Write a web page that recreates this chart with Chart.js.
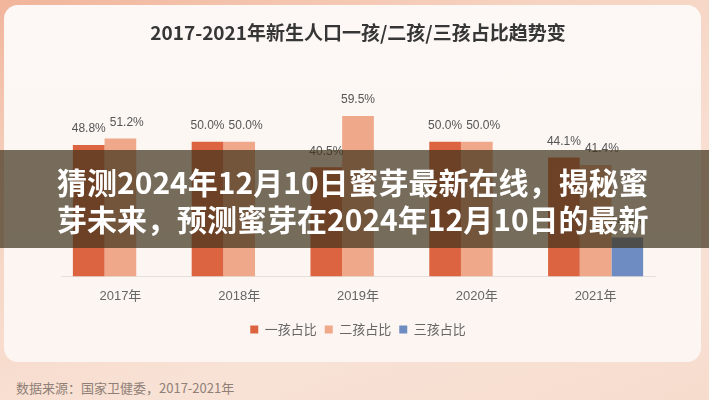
<!DOCTYPE html>
<html>
<head>
<meta charset="utf-8">
<script src="https://cdn.jsdelivr.net/npm/chart.js@4.4.0/dist/chart.umd.min.js"></script>
<style>
    html, body { margin: 0; padding: 0; }
    body {
        width: 709px; height: 400px; overflow: hidden; position: relative;
        background: linear-gradient(160deg, #f1b59b 0%, #f6d3c1 30%, #f8e2d6 70%, #f6dccd 100%);
        font-family: "Noto Sans CJK SC", sans-serif;
    }
    #card {
        position: absolute; left: 4px; top: 5px; width: 697px; height: 357px;
        border-radius: 14px;
        background: linear-gradient(180deg, #fdf8f5 0%, #fcf5f1 100%);
    }
    #wrap { position: absolute; left: 0; top: 0; width: 709px; height: 346px; }
    #banner {
        position: absolute; left: 0; top: 150px; width: 709px; height: 98px;
        background: rgba(63, 51, 28, 0.71);
        color: #fff; font-weight: bold; font-size: 30px; line-height: 37px;
        box-sizing: border-box; padding: 13px 0 0 57px; white-space: nowrap;
    }
    #source {
        position: absolute; left: 16px; top: 379px;
        font-size: 13px; line-height: 18px; color: #8f7f76;
    }
</style>
</head>
<body>
<div id="card"></div>
<div id="wrap"><canvas id="birthChart"></canvas></div>
<div id="banner">猜测2024年12月10日蜜芽最新在线，揭秘蜜<br>芽未来，预测蜜芽在2024年12月10日的最新</div>
<div id="source">数据来源：国家卫健委，2017-2021年</div>

<script>
const years       = ['2017年', '2018年', '2019年', '2020年', '2021年'];
const firstChild  = [48.8, 50.0, 40.5, 50.0, 44.1];
const secondChild = [51.2, 50.0, 59.5, 50.0, 41.4];
const thirdChild  = [null, null, null, null, 14.5];
const seriesNames = ['一孩占比', '二孩占比', '三孩占比'];
const chartTitle  = '2017-2021年新生人口一孩/二孩/三孩占比趋势变';

// percentage labels above each bar, nudged right when they'd collide with the neighbour
const valueLabels = {
    id: 'valueLabels',
    afterDatasetsDraw(chart) {
        const ctx = chart.ctx;
        ctx.save();
        ctx.font = '12px "Liberation Sans", sans-serif';
        ctx.fillStyle = '#555555';
        ctx.textAlign = 'center';
        ctx.textBaseline = 'middle';
        const placed = {};
        chart.data.datasets.forEach((ds, i) => {
            chart.getDatasetMeta(i).data.forEach((bar, j) => {
                const v = ds.data[j];
                if (v == null) return;
                const text = `${v.toFixed(1)}%`;
                const w = ctx.measureText(text).width;
                let x = bar.x;
                const y = bar.y - 16;
                const prev = placed[j];
                if (prev && Math.abs(prev.y - y) < 13) {
                    const minX = prev.right + 4 + w / 2;
                    if (x < minX) x = minX;
                }
                ctx.fillText(text, x, y);
                placed[j] = { right: x + w / 2, y };
            });
        });
        ctx.restore();
    }
};

const ctx = document.getElementById('birthChart').getContext('2d');
new Chart(ctx, {
    type: 'bar',
    data: {
        labels: years,
        datasets: [
            { label: seriesNames[0], data: firstChild,  backgroundColor: '#dc6440' },
            { label: seriesNames[1], data: secondChild, backgroundColor: '#f0a88b' },
            { label: seriesNames[2], data: thirdChild,  backgroundColor: '#6e8cc2' }
        ]
    },
    options: {
        responsive: true,
        maintainAspectRatio: false,
        animation: false,
        datasets: { bar: { barPercentage: 1.0, categoryPercentage: 0.8 } },
        layout: { padding: { left: 61, right: 54, top: 0, bottom: 0 } },
        plugins: {
            title: {
                display: true,
                text: chartTitle,
                color: '#363636',
                font: { family: '"Noto Sans CJK SC", sans-serif', size: 19, weight: 'bold' },
                padding: { top: 21, bottom: 17 }
            },
            legend: {
                position: 'bottom',
                labels: {
                    boxWidth: 8, boxHeight: 8, padding: 8,
                    color: '#666666',
                    font: { family: '"Noto Sans CJK SC", sans-serif', size: 13 }
                }
            },
            tooltip: { enabled: false }
        },
        scales: {
            x: {
                grid: { display: false },
                border: { color: '#e4dfdc', width: 1 },
                ticks: {
                    color: '#666666', padding: 4,
                    font: { family: '"Liberation Sans", "Noto Sans CJK SC", sans-serif', size: 13 }
                },
                afterFit: (scale) => { scale.height = 38.5; }
            },
            y: { display: false, min: 0, max: 80 }
        }
    },
    plugins: [valueLabels]
});
</script>
</body>
</html>
